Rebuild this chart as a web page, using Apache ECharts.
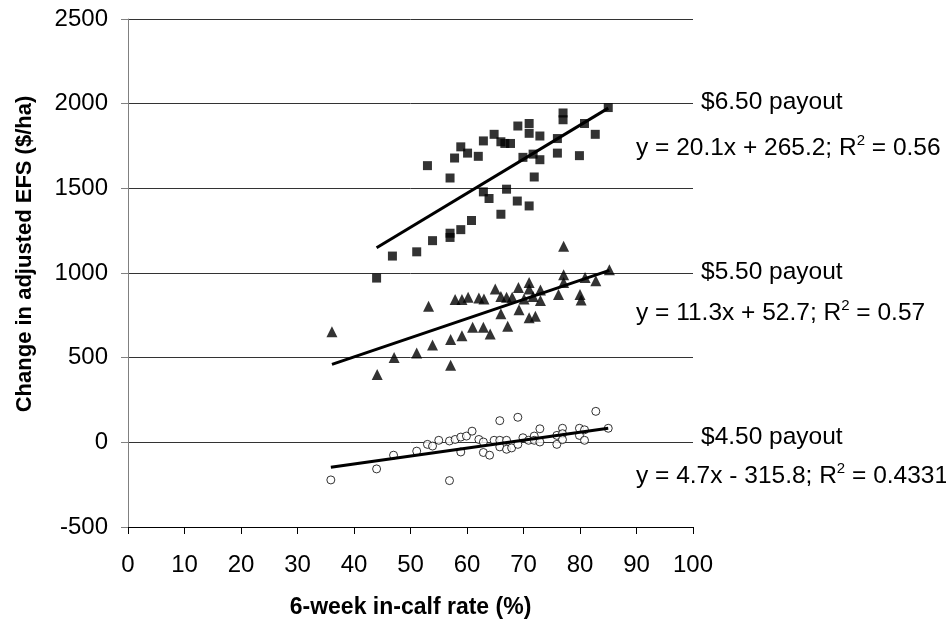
<!DOCTYPE html>
<html>
<head>
<meta charset="utf-8">
<script src="https://cdn.jsdelivr.net/npm/echarts@6/dist/echarts.min.js"></script>
<style>html,body{margin:0;padding:0;background:#fff}#c{width:946px;height:624px}</style>
</head>
<body>
<div id="c"></div>
<script>
// $6.50 payout (squares)
var sqX = [53,57,57.8,58.9,60.1,62,62.9,64.8,66,66.7,67.7,69,71,71,72.9,69.9,71.7,72.9,71.9,76,77,77,76,79.9,80.8,82.7,85,62.9,63.9,67,68.9,71,66,60.8,58.9,57,57,53.9,51.1,46.8,44];
var sqY = [1634,1561,1679,1745,1708,1689,1780,1819,1775,1765,1765,1868,1883,1825,1809,1683,1702,1669,1567,1794,1945,1905,1708,1693,1883,1819,1977,1479,1440,1495,1425,1396,1347,1310,1256,1235,1210,1191,1125,1100,970];
// $5.50 payout (triangles)
var trX = [36.1,44.1,47.1,51.1,53.2,53.9,57.1,57.1,59.1,57.9,59.1,60.2,62.1,63,61,62.9,64.1,65,66,67,68,66,67.2,69.1,69.2,70.1,71,71,71,72.1,73,73,71.7,76.2,77.1,77.1,77.1,80,80.2,80.9,82.8,85.2];
var trY = [653,400,501,527,803,575,608,455,630,844,844,857,853,847,679,679,640,906,861,857,857,760,686,915,783,847,944,906,735,745,900,838,861,873,989,944,1158,873,841,974,954,1019];
// $4.50 payout (circles)
var ciX = [35.9,56.9,44,47,51.1,53,53.9,55,56.9,57.9,58.9,59.9,60.9,58.9,62.1,62.9,62.9,64,64.8,65.8,67,65.8,67,67.9,65.8,69,69,69.9,70.9,71.9,71.9,72.9,72.9,75.9,75.9,76.9,76.9,76.9,79.9,79.9,80.8,80.8,82.8,85];
var ciY = [-222,-226,-157,-76,-52,-12,-22,12,8,17,31,37,66,-57,17,2,-60,-76,12,12,12,-27,-41,-33,128,148,-12,27,12,37,12,80,2,41,-12,83,51,16,83,41,74,12,183,83];
// trend-line coefficients: [slope, intercept]
var trendSq = [20.1, 265.2];
var trendTr = [11.3, 52.7];
var trendCi = [4.7, -315.8];
var xTicks = [0,10,20,30,40,50,60,70,80,90,100];
var yTicks = [-500,0,500,1000,1500,2000,2500];

function pts(xs, ys){ return xs.map(function(x,i){ return [x, ys[i]]; }); }
function trend(xs, c){
  var mn = Math.min.apply(null, xs), mx = Math.max.apply(null, xs);
  return [[mn, c[0]*mn + c[1]], [mx, c[0]*mx + c[1]]];
}
var FONT = '"Liberation Sans", Arial, sans-serif';
var chart = echarts.init(document.getElementById('c'), null, {renderer:'canvas'});
var lineSer = function(d){ return {type:'line', data:d, showSymbol:false, symbol:'none', lineStyle:{color:'#000', width:3}, z:3, silent:true}; };
var AF = 24.5;
var annot = function(txt, x, y){
  return {type:'text', x:x, y:y, style:{text:txt, font:AF + 'px ' + FONT, fill:'#000', verticalAlign:'middle'}};
};
var eq = function(pre, post, x, y){
  return {type:'text', x:x, y:y, style:{
    text:'{a|' + pre + '}{s|2}{a|' + post + '}',
    verticalAlign:'middle',
    rich:{a:{fontSize:AF, fontFamily:FONT, fill:'#000', lineHeight:27, verticalAlign:'bottom'},
          s:{fontSize:15, fontFamily:FONT, fill:'#000', lineHeight:27, verticalAlign:'top'}}
  }};
};
chart.setOption({
  animation:false,
  backgroundColor:'#fff',
  grid:{left:128, right:253, top:19, bottom:91, containLabel:false},
  xAxis:{type:'value', min:0, max:100, interval:10,
    name:'6-week in-calf rate (%)', nameLocation:'middle', nameGap:69,
    nameTextStyle:{fontFamily:FONT, fontWeight:'bold', fontSize:23, color:'#000'},
    axisLine:{onZero:false, lineStyle:{color:'#000', width:1}},
    axisTick:{show:true, length:7, inside:false, lineStyle:{color:'#000'}},
    axisLabel:{fontFamily:FONT, fontSize:24, color:'#000', margin:26,
      formatter:function(v){ return xTicks.indexOf(v) >= 0 ? String(v) : ''; }},
    splitLine:{show:false}},
  yAxis:{type:'value', min:-500, max:2500, interval:500,
    axisLine:{show:true, lineStyle:{color:'#808080', width:1}},
    axisTick:{show:true, length:7, lineStyle:{color:'#808080'}},
    axisLabel:{fontFamily:FONT, fontSize:24, color:'#000', margin:20,
      formatter:function(v){ return yTicks.indexOf(v) >= 0 ? String(v) : ''; }},
    splitLine:{show:true, lineStyle:{color:'#333', width:1}}},
  series:[
    {type:'scatter', data:pts(sqX, sqY), symbol:'rect', symbolSize:9, itemStyle:{color:'#000'}, z:2},
    {type:'scatter', data:pts(trX, trY), symbol:'triangle', symbolSize:11, itemStyle:{color:'#000'}, z:2},
    {type:'scatter', data:pts(ciX, ciY), symbol:'circle', symbolSize:8, itemStyle:{color:'#fff', borderColor:'#000', borderWidth:1}, z:2},
    lineSer(trend(sqX, trendSq)),
    lineSer(trend(trX, trendTr)),
    lineSer(trend(ciX, trendCi))
  ],
  graphic:[
    {type:'text', x:25, y:254, rotation:Math.PI/2,
      style:{text:'Change in adjusted EFS ($/ha)', font:'bold 22px ' + FONT, fill:'#000', align:'center', verticalAlign:'middle'}},
    annot('$6.50 payout', 701, 102),
    eq('y = 20.1x + 265.2; R', ' = 0.56', 636, 147),
    annot('$5.50 payout', 701, 272),
    eq('y = 11.3x + 52.7; R', ' = 0.57', 636, 312),
    annot('$4.50 payout', 701, 437),
    eq('y = 4.7x - 315.8; R', ' = 0.4331', 636, 475)
  ]
});
</script>
</body>
</html>
